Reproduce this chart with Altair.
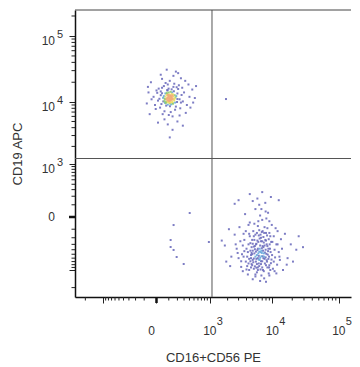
import altair as alt
import numpy as np
import pandas as pd

# ---------------- data ----------------
# CD19+ B cells (CD16+CD56 PE, CD19 APC)
b_cells = [
    (95, 11900), (120, 10700), (80, 12800), (140, 11200), (105, 9800), (65, 11000), (130, 13300), (88, 10200),
    (150, 12100), (112, 12500), (72, 9600), (160, 10500), (98, 13900), (125, 9200), (55, 12300), (135, 10000),
    (85, 11500), (115, 11300), (145, 13000), (102, 10400), (60, 10300), (175, 11700), (92, 12900), (128, 12000),
    (78, 11100), (110, 9500), (155, 11000), (68, 13500), (118, 14300), (90, 9100), (140, 9700), (100, 12200),
    (82, 13200), (165, 12700), (48, 11600), (132, 10800), (108, 11100), (75, 10000), (122, 12600), (95, 10900),
    (100, 11500), (115, 12000), (85, 10600), (130, 11600), (70, 12100), (140, 12500), (105, 13000), (92, 9900),
    (150, 10900), (60, 11300), (120, 9900), (80, 13800), (110, 10300), (135, 14000), (95, 12600), (125, 11400),
    (75, 8800), (165, 11300), (50, 10200), (145, 9400), (88, 15000), (185, 12300), (30, 12700), (112, 8600),
    (155, 14600), (65, 9700), (200, 11100), (40, 13600), (170, 9800), (98, 16000),
    (-20, 12000), (10, 10500), (30, 14500), (200, 13500), (230, 11000), (250, 9800), (25, 8200), (180, 8500),
    (40, 16500), (150, 17000), (90, 18500), (-10, 9000), (210, 15800), (60, 7200), (120, 7000), (170, 7600),
    (260, 12800), (5, 13800), (20, 11200), (280, 10200), (45, 6500), (100, 6300), (190, 16800), (70, 19500),
    (130, 15600), (-35, 11000), (15, 16000), (300, 14000), (110, 21000), (55, 17500), (160, 19000), (35, 9300),
    (240, 8000), (85, 15200), (195, 10000), (-5, 7800), (140, 6000), (220, 18000), (0, 15000), (270, 16500),
    (-60, 14000), (-75, 9500), (400, 12000), (460, 15500), (350, 9000), (520, 11500), (380, 18500), (30, 26000),
    (150, 25000), (250, 23000), (80, 31000), (-40, 20000), (320, 21000), (200, 5000), (90, 4500), (140, 3700),
    (60, 5400), (230, 6200), (-50, 6500), (10, 4800), (330, 6800), (420, 8200), (180, 29000), (110, 2800),
    (280, 4300), (550, 17500), (-65, 17000), (40, 22500), (210, 27500), (480, 9800),
]

# CD16+CD56+ NK cells
nk_cells = [
    (6100, -260), (5200, -340), (7300, -190), (4600, -420), (8200, -300), (5800, -520), (6900, -130), (4900, -230),
    (7700, -460), (6400, -380), (5500, -160), (8800, -220), (6000, -600), (7100, -330), (4300, -300), (5300, -480),
    (6700, -250), (8000, -140), (5000, -650), (7500, -560), (6200, -170), (4700, -520), (9200, -380), (5700, -290),
    (6600, -450), (7900, -400), (4500, -180), (5400, -390), (8500, -510), (6300, -110), (7000, -690), (5100, -120),
    (9600, -260), (6800, -550), (4400, -620), (7400, -270), (5900, -410), (8300, -170), (5600, -700), (6500, -320),
    (7200, -420), (4800, -350), (8700, -620), (6100, -480), (5300, -230), (7800, -230), (6900, -370), (4200, -450),
    (9000, -140), (5800, -140), (7600, -320), (6400, -650), (5000, -420), (8100, -490), (6700, -200), (4600, -280),
    (7300, -600), (5500, -560), (9400, -450), (6000, -380), (7000, -250), (5200, -180), (8400, -330), (6200, -540),
    (4900, -500), (7500, -140), (5700, -620), (6600, -160), (8900, -560), (6300, -440),
    (5600, -300), (6800, -420), (4400, -150), (7900, -580), (5100, -720), (6300, -850), (8600, -430), (4000, -380),
    (7100, -120), (5900, -240), (9900, -520), (4700, -600), (6600, -980), (8200, -660), (5300, -50), (7400, -480),
    (3700, -230), (6000, -70), (9100, -300), (4900, -820), (7700, -760), (5600, -440), (8400, -90), (6200, -640),
    (4100, -560), (7000, -900), (5400, -330), (6900, -470), (10500, -700), (3900, -120), (5800, -780), (8000, -240),
    (6500, -590), (4600, -690), (7300, -350), (9300, -180), (5000, -290), (6400, -210), (8700, -380), (4300, -760),
    (7600, -620), (5700, -910), (6100, -30), (9000, -820), (4800, -470), (7100, -550), (5200, -610), (6700, -690),
    (8400, -900), (3600, -560), (6000, -1000), (7900, 40), (5500, -1200), (4400, -1000), (10800, -1050),
    (3300, -880), (12000, -300), (2700, -300), (6800, -1250), (8800, -1150),
    (3200, -250), (2800, -380), (3600, -150), (11500, -300), (12500, -450), (10500, -180), (3000, -600),
    (13000, -650), (4100, -850), (6000, -900), (8000, -820), (5200, -950), (7200, -1000), (9500, -750),
    (3800, 20), (5500, 60), (7000, -20), (8600, 30), (4500, -40), (6300, 100), (9800, -60), (3400, -500),
    (11000, -580), (2600, -160), (14000, -380), (4800, -780), (6700, -780), (8900, -900), (5800, -1100),
    (3900, -700), (10200, -950), (12000, -120), (7800, 120), (5000, 140), (4000, -980), (6500, 10), (9000, -30),
    (3100, -80), (13500, -220), (11800, -800), (2900, -470), (7400, -1050), (5400, -860), (10800, -400),
    (3500, -320), (6200, -760), (8300, -700), (4300, -60), (7600, -80), (9700, -640), (12800, -560), (3700, -430),
    (5900, 170), (8100, -10), (10000, -260), (4700, -900), (6800, 60), (11200, -90), (3300, -690), (9300, -1000),
    (1800, -320), (2100, -100), (1600, -240), (2300, -560), (19000, -300), (23000, -400), (29000, -350),
    (17000, -600), (15500, -150), (16500, -800), (4500, 230), (7000, 260), (9500, 190), (3000, 150),
    (5500, -1300), (7500, -1400), (6500, -1550), (9000, -1250), (4200, -1200), (11500, -1150), (2200, -850),
    (14500, -1000), (2600, 110), (12500, 150), (20500, -700), (8000, -1600), (5000, -1450), (3500, -1050),
    (25000, -180), (1900, -700),
]

# scattered single events
other_events = [
    (1880, 11100), (405, 28), (152, -61), (119, -231), (119, -347), (152, -405), (190, -569), (294, -777), (960, -262),
]

gate_x = [1090]
gate_y = [1250]

major_ticks = [-1000, 0, 1000, 10000, 100000]
minor_ticks = [-2000, -900, -800, -700, -600, -500, -400, -300, -200, -100,
               100, 200, 300, 400, 500, 600, 700, 800, 900,
               2000, 3000, 4000, 5000, 6000, 7000, 8000, 9000,
               20000, 30000, 40000, 50000, 60000, 70000, 80000, 90000, 200000]
label_values = [1000, 10000, 100000]
label_exps = ["3", "4", "5"]

# ---------------- layout / style ----------------
C = 190
X_DOMAIN = [-2935, 151800]
Y_DOMAIN = [-2843, 246200]
W, H = 276, 287
FONT = "Liberation Sans, Arial, Helvetica, sans-serif"
INK = "#333333"
palette = ["#6f6fbe", "#6aa8dc", "#90cc70", "#eedd66", "#f2ab7a"]

events = pd.DataFrame(b_cells + nk_cells + other_events, columns=["x", "y"])


# density level for pseudo-colour (computed in display space)
def _s(v):
    v = np.asarray(v, dtype=float)
    return np.sign(v) * np.log1p(np.abs(v) / C)


def _px(v, dom, size):
    return (_s(v) - _s(dom[0])) / (_s(dom[1]) - _s(dom[0])) * size


px = _px(events["x"], X_DOMAIN, W)
py = _px(events["y"], Y_DOMAIN, H)
d2 = (px[:, None] - px[None, :]) ** 2 + (py[:, None] - py[None, :]) ** 2
nbr = (d2 < 25).sum(1) - 1
events["level"] = np.digitize(nbr, [14, 18, 23, 29])
events = events.sort_values("level")

xs = alt.Scale(type="symlog", constant=C, domain=X_DOMAIN, nice=False, zero=False)
ys = alt.Scale(type="symlog", constant=C, domain=Y_DOMAIN, nice=False, zero=False)

common_axis = dict(values=major_ticks, labels=False, grid=False, tickSize=6, tickColor="#222222",
                   tickWidth=1, domainColor="#111111", domainWidth=1.5, titleFont=FONT,
                   titleFontSize=13, titleFontWeight="normal", titleColor=INK)
x_axis = alt.Axis(title="CD16+CD56 PE", titlePadding=48, **common_axis)
y_axis = alt.Axis(title="CD19 APC", titlePadding=44, **common_axis)


def X(f):
    return alt.X(f"{f}:Q", scale=xs, axis=x_axis)


def Y(f):
    return alt.Y(f"{f}:Q", scale=ys, axis=y_axis)


points = alt.Chart(events).mark_square(size=4, opacity=0.9, strokeWidth=0).encode(
    x=X("x"), y=Y("y"),
    color=alt.Color("level:O", scale=alt.Scale(domain=[0, 1, 2, 3, 4], range=palette), legend=None),
    order=alt.Order("level:Q"),
)

gate_v = alt.Chart(pd.DataFrame({"x": gate_x})).mark_rule(color="#555555", strokeWidth=1).encode(x=X("x"))
gate_h = alt.Chart(pd.DataFrame({"y": gate_y})).mark_rule(color="#555555", strokeWidth=1).encode(y=Y("y"))
top_line = alt.Chart(pd.DataFrame({"y": [Y_DOMAIN[1]]})).mark_rule(color="#444444", strokeWidth=1).encode(y=Y("y"))

x_minor = [v for v in minor_ticks if X_DOMAIN[0] <= v <= X_DOMAIN[1]]
y_minor = [v for v in minor_ticks if Y_DOMAIN[0] <= v <= Y_DOMAIN[1]]
x_minor_ticks = alt.Chart(pd.DataFrame({"x": x_minor})).mark_rule(color="#222222", strokeWidth=1).encode(
    x=X("x"), y=alt.value(H), y2=alt.value(H + 3.5))
y_minor_ticks = alt.Chart(pd.DataFrame({"y": y_minor})).mark_rule(color="#222222", strokeWidth=1).encode(
    y=Y("y"), x=alt.value(-3.5), x2=alt.value(0))
x_zero_tick = alt.Chart(pd.DataFrame({"x": [0]})).mark_rule(color="#111111", strokeWidth=2.5).encode(
    x=X("x"), y=alt.value(H), y2=alt.value(H + 6))
y_zero_tick = alt.Chart(pd.DataFrame({"y": [0]})).mark_rule(color="#111111", strokeWidth=2.5).encode(
    y=Y("y"), x=alt.value(-6), x2=alt.value(0))

pow_x = pd.DataFrame({"x": label_values, "base": ["10"] * 3, "exp": label_exps})
pow_y = pd.DataFrame({"y": label_values, "base": ["10"] * 3, "exp": label_exps})
zero_x = pd.DataFrame({"x": [0], "base": ["0"]})
zero_y = pd.DataFrame({"y": [0], "base": ["0"]})

txt = dict(font=FONT, color=INK)
xl_base = alt.Chart(pow_x).mark_text(align="center", baseline="alphabetic", fontSize=12, **txt).encode(
    x=X("x"), y=alt.value(H + 38), text="base:N")
xl_exp = alt.Chart(pow_x).mark_text(align="left", baseline="alphabetic", fontSize=11, dx=7, **txt).encode(
    x=X("x"), y=alt.value(H + 28), text="exp:N")
xl_zero = alt.Chart(zero_x).mark_text(align="center", baseline="alphabetic", fontSize=12, dx=-5, **txt).encode(
    x=X("x"), y=alt.value(H + 38), text="base:N")
yl_base = alt.Chart(pow_y).mark_text(align="right", baseline="alphabetic", fontSize=12, dy=9, **txt).encode(
    y=Y("y"), x=alt.value(-20), text="base:N")
yl_exp = alt.Chart(pow_y).mark_text(align="left", baseline="alphabetic", fontSize=11, dy=2, **txt).encode(
    y=Y("y"), x=alt.value(-18), text="exp:N")
yl_zero = alt.Chart(zero_y).mark_text(align="right", baseline="middle", fontSize=12, dy=0.5, **txt).encode(
    y=Y("y"), x=alt.value(-20), text="base:N")

chart = alt.layer(
    points, gate_v, gate_h, top_line,
    x_minor_ticks, y_minor_ticks, x_zero_tick, y_zero_tick,
    xl_base, xl_exp, xl_zero, yl_base, yl_exp, yl_zero,
).properties(
    width=W, height=H,
    autosize=alt.AutoSizeParams(type="none"),
    padding={"left": 67, "top": 2, "right": 1, "bottom": 70},
).configure_view(stroke=None)

chart.save("out.html", embed_options={"renderer": "svg", "actions": False})
